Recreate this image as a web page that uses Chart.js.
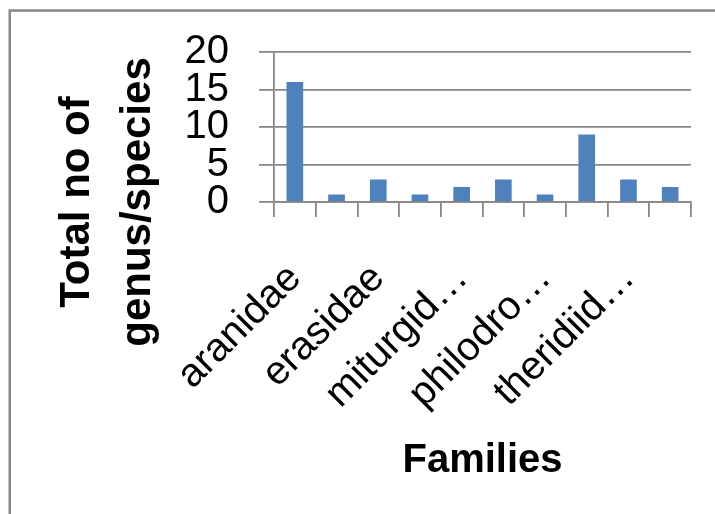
<!DOCTYPE html>
<html>
<head>
<meta charset="utf-8">
<script src="https://cdn.jsdelivr.net/npm/chart.js@4"></script>
<style>
html,body{margin:0;padding:0;background:#fff;}
#wrap{width:715px;height:514px;position:relative;}
</style>
</head>
<body>
<div id="wrap"><canvas id="chart" width="715" height="514"></canvas></div>
<script>
/* ================= DATA ================= */
const families=['aranidae','clubionidae','erasidae','lycosidae','miturgidae','oxyopidae','philodromidae','salticidae','theridiidae','thomisidae'];
const counts=[16,1,3,1,2,3,1,9,3,2];
const tickLabels=['aranidae','','erasidae','','miturgid…','','philodro…','','theridiid…',''];
const yTicks=[0,5,10,15,20];

const FONT='"Liberation Sans", Arial, sans-serif';
const GRAY='#878787';

/* ================= FRAME + AXIS TITLES ================= */
const decor={
id:'decor',
beforeDraw(chart){
const ctx=chart.ctx;
ctx.save();
ctx.fillStyle='#fff';
ctx.fillRect(0,0,chart.width,chart.height);
ctx.strokeStyle=GRAY;
ctx.lineWidth=2.5;
ctx.strokeRect(9.75,10.5,900,700);
ctx.restore();
},
afterDraw(chart){
const ctx=chart.ctx;
ctx.save();
ctx.fillStyle='#000';
ctx.font='bold 42px '+FONT;
ctx.textAlign='center';
ctx.textBaseline='alphabetic';
const cy=202;
[['Total no of',89],['genus/species',150]].forEach(([t,x])=>{
ctx.save();
ctx.translate(x,cy);
ctx.rotate(-Math.PI/2);
ctx.fillText(t,0,0);
ctx.restore();
});
ctx.font='bold 40px '+FONT;
const a=chart.chartArea;
ctx.fillText('Families',(a.left+a.right)/2,472);
ctx.restore();
}
};

/* ================= CHART ================= */
new Chart(document.getElementById('chart'),{
type:'bar',
data:{
labels:families,
datasets:[{
data:counts,
backgroundColor:'#4F81BD',
borderWidth:0,
barPercentage:0.4,
categoryPercentage:1
}]
},
options:{
responsive:false,
animation:false,
layout:{padding:{top:52,right:24,left:0,bottom:0}},
plugins:{legend:{display:false},tooltip:{enabled:false}},
scales:{
x:{
grid:{offset:true,drawOnChartArea:false,color:GRAY,lineWidth:1.8,tickLength:15},
border:{color:GRAY,width:1.8},
ticks:{
autoSkip:false,minRotation:45,maxRotation:45,
padding:38,color:'#000',
font:{family:FONT,size:40},
callback:(v,i)=>tickLabels[i]
},
afterFit(s){s.height=312;s.paddingLeft=0;s.paddingRight=0;}
},
y:{
min:0,max:20,
afterBuildTicks(s){s.ticks=yTicks.map(v=>({value:v}));},
grid:{color:GRAY,lineWidth:1.8,tickLength:15},
border:{color:GRAY,width:1.8},
ticks:{autoSkip:false,padding:30,color:'#000',font:{family:FONT,size:40}},
afterFit(s){s.width=274;s.paddingTop=0;s.paddingBottom=0;}
}
}
},
plugins:[decor]
});
</script>
</body>
</html>
